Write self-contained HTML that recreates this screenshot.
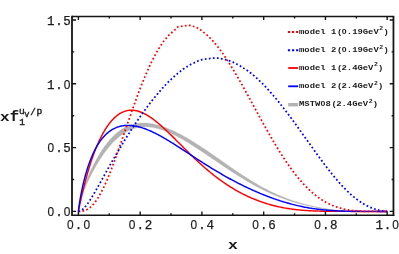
<!DOCTYPE html>
<html><head><meta charset="utf-8"><title>plot</title>
<style>
html,body{margin:0;padding:0;background:#fff;}
svg{display:block;will-change:transform;}
text{font-family:"Liberation Mono",monospace;fill:#1a1a1a;}
.tk{font-size:12.5px;letter-spacing:0.7px;}
.lg{font-size:7.4px;font-weight:bold;}
.lgs{font-size:5.4px;font-weight:bold;}
</style></head><body>
<svg width="399" height="254" viewBox="0 0 399 254">
<rect width="399" height="254" fill="#fff"/>
<g fill="none" stroke-linejoin="round">
<path d="M78.40,211.40 L78.43,210.13 L78.50,209.02 L78.59,207.95 L78.71,206.91 L78.84,205.89 L78.99,204.88 L79.16,203.89 L79.34,202.89 L79.53,201.91 L79.74,200.93 L79.96,199.94 L80.19,198.97 L80.44,197.99 L80.69,197.00 L80.96,196.02 L81.24,195.04 L81.53,194.05 L81.83,193.07 L82.13,192.08 L82.45,191.08 L82.78,190.09 L83.12,189.09 L83.47,188.08 L83.83,187.07 L84.19,186.06 L84.57,185.05 L84.95,184.03 L85.35,183.01 L85.75,181.99 L86.16,180.96 L86.57,179.93 L87.00,178.90 L87.43,177.86 L87.88,176.82 L88.33,175.78 L88.78,174.74 L89.25,173.70 L89.72,172.65 L90.20,171.61 L90.69,170.57 L91.19,169.52 L91.69,168.48 L92.20,167.43 L92.72,166.39 L93.24,165.35 L93.77,164.31 L94.31,163.28 L94.85,162.25 L95.41,161.22 L95.96,160.19 L96.53,159.17 L97.10,158.16 L97.68,157.15 L98.27,156.15 L98.86,155.15 L99.46,154.17 L100.06,153.19 L100.67,152.21 L101.29,151.25 L101.91,150.30 L102.54,149.35 L103.18,148.42 L103.82,147.50 L104.47,146.59 L105.13,145.69 L105.79,144.80 L106.45,143.93 L107.13,143.07 L107.81,142.22 L108.49,141.39 L109.18,140.57 L109.88,139.77 L110.58,138.98 L111.29,138.21 L112.00,137.46 L112.72,136.72 L113.45,136.00 L114.18,135.29 L114.92,134.61 L115.66,133.94 L116.41,133.29 L117.16,132.66 L117.92,132.05 L118.68,131.46 L119.45,130.88 L120.23,130.33 L121.01,129.79 L121.80,129.28 L122.59,128.78 L123.39,128.31 L124.19,127.85 L125.00,127.42 L125.81,127.01 L126.63,126.61 L127.45,126.24 L128.28,125.89 L129.11,125.55 L129.95,125.24 L130.80,124.95 L131.65,124.68 L132.50,124.43 L133.36,124.20 L134.22,123.99 L135.09,123.80 L135.97,123.63 L136.85,123.48 L137.73,123.35 L138.62,123.24 L139.52,123.15 L140.42,123.08 L141.32,123.03 L142.23,123.00 L143.15,122.98 L144.06,122.99 L144.99,123.01 L145.92,123.06 L146.85,123.12 L147.79,123.20 L148.73,123.30 L149.68,123.42 L150.63,123.55 L151.59,123.70 L152.55,123.87 L153.52,124.06 L154.49,124.26 L155.47,124.48 L156.45,124.71 L157.43,124.97 L158.43,125.24 L159.42,125.52 L160.42,125.82 L161.42,126.14 L162.43,126.47 L163.45,126.82 L164.46,127.18 L165.49,127.55 L166.51,127.95 L167.54,128.35 L168.58,128.77 L169.62,129.21 L170.66,129.66 L171.71,130.12 L172.77,130.59 L173.83,131.08 L174.89,131.58 L175.95,132.10 L177.03,132.63 L178.10,133.17 L179.18,133.72 L180.27,134.29 L181.35,134.87 L182.45,135.46 L183.55,136.06 L184.65,136.67 L185.75,137.30 L186.86,137.94 L187.98,138.58 L189.10,139.24 L190.22,139.91 L191.35,140.59 L192.48,141.28 L193.61,141.98 L194.75,142.69 L195.90,143.41 L197.05,144.14 L198.20,144.88 L199.36,145.63 L200.52,146.39 L201.68,147.15 L202.85,147.93 L204.03,148.71 L205.20,149.50 L206.38,150.30 L207.57,151.10 L208.76,151.91 L209.95,152.73 L211.15,153.55 L212.35,154.38 L213.56,155.22 L214.77,156.06 L215.98,156.90 L217.20,157.75 L218.42,158.61 L219.65,159.47 L220.88,160.33 L222.12,161.19 L223.35,162.06 L224.60,162.93 L225.84,163.80 L227.09,164.67 L228.35,165.55 L229.60,166.42 L230.87,167.30 L232.13,168.17 L233.40,169.04 L234.68,169.91 L235.95,170.78 L237.24,171.65 L238.52,172.52 L239.81,173.38 L241.10,174.24 L242.40,175.09 L243.70,175.94 L245.01,176.79 L246.31,177.62 L247.63,178.46 L248.94,179.29 L250.26,180.11 L251.59,180.92 L252.92,181.73 L254.25,182.53 L255.58,183.32 L256.92,184.10 L258.26,184.88 L259.61,185.64 L260.96,186.40 L262.32,187.14 L263.67,187.88 L265.04,188.60 L266.40,189.32 L267.77,190.02 L269.14,190.71 L270.52,191.39 L271.90,192.06 L273.28,192.72 L274.67,193.37 L276.06,194.00 L277.46,194.63 L278.86,195.24 L280.26,195.84 L281.66,196.42 L283.07,197.00 L284.49,197.56 L285.91,198.11 L287.33,198.65 L288.75,199.17 L290.18,199.68 L291.61,200.19 L293.04,200.67 L294.48,201.15 L295.93,201.62 L297.37,202.07 L298.82,202.51 L300.27,202.94 L301.73,203.36 L303.19,203.77 L304.66,204.16 L306.12,204.55 L307.59,204.92 L309.07,205.28 L310.55,205.64 L312.03,205.98 L313.51,206.31 L315.00,206.63 L316.49,206.94 L317.99,207.24 L319.49,207.53 L320.99,207.81 L322.50,208.08 L324.01,208.33 L325.52,208.58 L327.04,208.82 L328.56,209.05 L330.08,209.26 L331.61,209.47 L333.14,209.67 L334.67,209.85 L336.21,210.03 L337.75,210.19 L339.29,210.34 L340.84,210.48 L342.39,210.61 L343.95,210.73 L345.51,210.84 L347.07,210.93 L348.63,211.02 L350.20,211.09 L351.77,211.16 L353.35,211.21 L354.93,211.26 L356.51,211.29 L358.09,211.32 L359.68,211.35 L361.27,211.37 L362.87,211.38 L364.47,211.39 L366.07,211.39 L367.68,211.40 L369.28,211.40 L370.90,211.40 L372.51,211.40 L374.13,211.40 L375.75,211.40 L377.38,211.40 L379.01,211.40 L380.64,211.40 L382.27,211.40 L383.91,211.40 L385.55,211.40 L387.20,211.40 L387.20,212.10 L385.55,212.10 L383.91,212.10 L382.27,212.10 L380.64,212.10 L379.01,212.10 L377.38,212.10 L375.75,212.10 L374.13,212.10 L372.51,212.10 L370.90,212.10 L369.28,212.10 L367.68,212.10 L366.07,212.09 L364.47,212.09 L362.87,212.08 L361.27,212.07 L359.68,212.05 L358.09,212.02 L356.51,211.99 L354.93,211.96 L353.35,211.91 L351.77,211.86 L350.20,211.79 L348.63,211.72 L347.07,211.63 L345.51,211.54 L343.95,211.43 L342.39,211.31 L340.84,211.18 L339.29,211.04 L337.75,210.89 L336.21,210.73 L334.67,210.55 L333.14,210.37 L331.61,210.17 L330.08,209.96 L328.56,209.75 L327.04,209.52 L325.52,209.28 L324.01,209.03 L322.50,208.78 L320.99,208.51 L319.49,208.23 L317.99,207.94 L316.49,207.64 L315.00,207.33 L313.51,207.01 L312.03,206.68 L310.55,206.34 L309.07,206.00 L307.59,205.68 L306.12,205.35 L304.66,205.01 L303.19,204.66 L301.73,204.30 L300.27,203.93 L298.82,203.54 L297.37,203.15 L295.93,202.74 L294.48,202.32 L293.04,201.89 L291.61,201.44 L290.18,200.98 L288.75,200.52 L287.33,200.04 L285.91,199.54 L284.49,199.04 L283.07,198.53 L281.66,198.00 L280.26,197.46 L278.86,196.91 L277.46,196.35 L276.06,195.78 L274.67,195.19 L273.28,194.60 L271.90,193.99 L270.52,193.38 L269.14,192.75 L267.77,192.12 L266.40,191.47 L265.04,190.81 L263.67,190.15 L262.32,189.47 L260.96,188.78 L259.61,188.09 L258.26,187.39 L256.92,186.68 L255.58,185.96 L254.25,185.23 L252.92,184.49 L251.59,183.75 L250.26,183.00 L248.94,182.24 L247.63,181.48 L246.31,180.71 L245.01,179.93 L243.70,179.15 L242.40,178.36 L241.10,177.57 L239.81,176.77 L238.52,175.97 L237.24,175.16 L235.95,174.35 L234.68,173.54 L233.40,172.72 L232.13,171.90 L230.87,171.07 L229.60,170.25 L228.35,169.42 L227.09,168.59 L225.84,167.76 L224.60,166.93 L223.35,166.10 L222.12,165.27 L220.88,164.44 L219.65,163.61 L218.42,162.78 L217.20,161.95 L215.98,161.12 L214.77,160.30 L213.56,159.47 L212.35,158.65 L211.15,157.84 L209.95,157.02 L208.76,156.21 L207.57,155.40 L206.38,154.60 L205.20,153.80 L204.03,153.01 L202.85,152.22 L201.68,151.44 L200.52,150.66 L199.36,149.89 L198.20,149.13 L197.05,148.37 L195.90,147.63 L194.75,146.89 L193.61,146.15 L192.48,145.43 L191.35,144.71 L190.22,144.01 L189.10,143.31 L187.98,142.62 L186.86,141.95 L185.75,141.28 L184.65,140.63 L183.55,139.98 L182.45,139.35 L181.35,138.73 L180.27,138.12 L179.18,137.53 L178.10,136.94 L177.03,136.37 L175.95,135.82 L174.89,135.27 L173.83,134.75 L172.77,134.23 L171.71,133.73 L170.66,133.25 L169.62,132.78 L168.58,132.33 L167.54,131.89 L166.51,131.47 L165.49,131.07 L164.46,130.68 L163.45,130.31 L162.43,129.96 L161.42,129.63 L160.42,129.31 L159.42,129.01 L158.43,128.73 L157.43,128.47 L156.45,128.23 L155.47,128.01 L154.49,127.80 L153.52,127.62 L152.55,127.46 L151.59,127.31 L150.63,127.19 L149.68,127.08 L148.73,127.00 L147.79,126.94 L146.85,126.89 L145.92,126.87 L144.99,126.87 L144.06,126.89 L143.15,126.93 L142.23,126.99 L141.32,127.08 L140.42,127.18 L139.52,127.31 L138.62,127.46 L137.73,127.63 L136.85,127.82 L135.97,128.03 L135.09,128.26 L134.22,128.51 L133.36,128.79 L132.50,129.09 L131.65,129.40 L130.80,129.74 L129.95,130.10 L129.11,130.48 L128.28,130.88 L127.45,131.30 L126.63,131.74 L125.81,132.20 L125.00,132.68 L124.19,133.18 L123.39,133.69 L122.59,134.23 L121.80,134.79 L121.01,135.36 L120.23,135.95 L119.45,136.56 L118.68,137.19 L117.92,137.83 L117.16,138.49 L116.41,139.17 L115.66,139.86 L114.92,140.57 L114.18,141.30 L113.45,142.04 L112.72,142.79 L112.00,143.56 L111.29,144.34 L110.58,145.13 L109.88,145.94 L109.18,146.76 L108.49,147.59 L107.81,148.43 L107.13,149.29 L106.45,150.15 L105.79,151.03 L105.13,151.91 L104.47,152.80 L103.82,153.71 L103.18,154.62 L102.54,155.53 L101.91,156.46 L101.29,157.39 L100.67,158.33 L100.06,159.27 L99.46,160.22 L98.86,161.17 L98.27,162.13 L97.68,163.10 L97.10,164.06 L96.53,165.03 L95.96,166.00 L95.41,166.98 L94.85,167.95 L94.31,168.93 L93.77,169.91 L93.24,170.89 L92.72,171.87 L92.20,172.85 L91.69,173.83 L91.19,174.81 L90.69,175.78 L90.20,176.76 L89.72,177.73 L89.25,178.71 L88.78,179.68 L88.33,180.64 L87.88,181.61 L87.43,182.57 L87.00,183.53 L86.57,184.48 L86.16,185.43 L85.75,186.38 L85.35,187.32 L84.95,188.26 L84.57,189.19 L84.19,190.12 L83.83,191.04 L83.47,191.96 L83.12,192.87 L82.78,193.78 L82.45,194.68 L82.13,195.58 L81.83,196.47 L81.53,197.35 L81.24,198.23 L80.96,199.11 L80.69,199.97 L80.44,200.84 L80.19,201.69 L79.96,202.54 L79.74,203.39 L79.53,204.22 L79.34,205.06 L79.16,205.88 L78.99,206.70 L78.84,207.51 L78.71,208.32 L78.59,209.11 L78.50,209.90 L78.43,210.83 L78.40,211.40 Z" fill="#b3b3b3" stroke="#b3b3b3" stroke-width="0.3"/>
<path d="M78.40,211.40 L78.42,211.30 L78.46,211.11 L78.51,210.84 L78.58,210.52 L78.66,210.14 L78.74,209.71 L78.84,209.24 L78.95,208.73 L79.06,208.18 L79.18,207.59 L79.31,206.97 L79.45,206.32 L79.59,205.64 L79.74,204.93 L79.89,204.19 L80.06,203.43 L80.22,202.64 L80.40,201.83 L80.58,201.00 L80.77,200.15 L80.96,199.28 L81.16,198.39 L81.36,197.48 L81.57,196.56 L81.78,195.62 L82.00,194.67 L82.23,193.70 L82.45,192.72 L82.69,191.73 L82.93,190.72 L83.17,189.71 L83.42,188.69 L83.67,187.66 L83.93,186.61 L84.19,185.57 L84.46,184.51 L84.73,183.45 L85.01,182.38 L85.29,181.31 L85.57,180.23 L85.86,179.15 L86.16,178.07 L86.45,176.98 L86.76,175.90 L87.06,174.81 L87.37,173.71 L87.69,172.62 L88.00,171.53 L88.33,170.44 L88.65,169.35 L88.98,168.26 L89.32,167.17 L89.65,166.08 L90.00,165.00 L90.34,163.92 L90.69,162.84 L91.04,161.77 L91.40,160.70 L91.76,159.63 L92.13,158.57 L92.49,157.52 L92.86,156.47 L93.24,155.42 L93.62,154.39 L94.00,153.36 L94.39,152.33 L94.78,151.31 L95.17,150.30 L95.56,149.30 L95.96,148.31 L96.37,147.32 L96.77,146.34 L97.18,145.37 L97.60,144.41 L98.01,143.46 L98.43,142.52 L98.86,141.59 L99.28,140.67 L99.71,139.76 L100.15,138.85 L100.58,137.96 L101.02,137.08 L101.47,136.22 L101.91,135.36 L102.36,134.51 L102.82,133.68 L103.27,132.86 L103.73,132.05 L104.19,131.25 L104.66,130.46 L105.13,129.69 L105.60,128.93 L106.07,128.18 L106.55,127.45 L107.03,126.73 L107.51,126.02 L108.00,125.33 L108.49,124.65 L108.98,123.99 L109.48,123.33 L109.98,122.70 L110.48,122.07 L110.99,121.47 L111.49,120.87 L112.00,120.30 L112.52,119.73 L113.03,119.18 L113.55,118.65 L114.07,118.13 L114.60,117.63 L115.13,117.15 L115.66,116.68 L116.19,116.22 L116.73,115.78 L117.27,115.36 L117.81,114.95 L118.36,114.56 L118.90,114.19 L119.45,113.83 L120.01,113.49 L120.56,113.17 L121.12,112.86 L121.68,112.57 L122.25,112.29 L122.82,112.04 L123.39,111.80 L123.96,111.57 L124.53,111.37 L125.11,111.18 L125.69,111.00 L126.28,110.85 L126.86,110.71 L127.45,110.59 L128.04,110.48 L128.64,110.40 L129.23,110.33 L129.83,110.27 L130.43,110.24 L131.04,110.22 L131.65,110.22 L132.26,110.23 L132.87,110.27 L133.48,110.31 L134.10,110.38 L134.72,110.46 L135.34,110.56 L135.97,110.68 L136.60,110.81 L137.23,110.96 L137.86,111.13 L138.50,111.31 L139.13,111.51 L139.77,111.73 L140.42,111.96 L141.06,112.20 L141.71,112.47 L142.36,112.74 L143.01,113.04 L143.67,113.35 L144.33,113.67 L144.99,114.01 L145.65,114.36 L146.32,114.73 L146.98,115.12 L147.66,115.51 L148.33,115.92 L149.00,116.35 L149.68,116.79 L150.36,117.24 L151.04,117.71 L151.73,118.19 L152.42,118.68 L153.11,119.18 L153.80,119.70 L154.49,120.23 L155.19,120.77 L155.89,121.32 L156.59,121.89 L157.29,122.46 L158.00,123.05 L158.71,123.64 L159.42,124.25 L160.13,124.87 L160.85,125.49 L161.57,126.13 L162.29,126.78 L163.01,127.43 L163.74,128.09 L164.46,128.76 L165.19,129.44 L165.92,130.13 L166.66,130.83 L167.40,131.53 L168.13,132.24 L168.88,132.95 L169.62,133.67 L170.37,134.40 L171.11,135.13 L171.86,135.87 L172.62,136.62 L173.37,137.37 L174.13,138.12 L174.89,138.88 L175.65,139.64 L176.41,140.40 L177.18,141.17 L177.95,141.94 L178.72,142.72 L179.49,143.50 L180.27,144.28 L181.04,145.06 L181.82,145.84 L182.60,146.63 L183.39,147.41 L184.17,148.20 L184.96,148.99 L185.75,149.77 L186.55,150.56 L187.34,151.35 L188.14,152.14 L188.94,152.92 L189.74,153.71 L190.54,154.50 L191.35,155.28 L192.15,156.06 L192.96,156.84 L193.78,157.62 L194.59,158.40 L195.41,159.17 L196.23,159.94 L197.05,160.71 L197.87,161.48 L198.70,162.24 L199.52,163.00 L200.35,163.76 L201.18,164.51 L202.02,165.26 L202.85,166.00 L203.69,166.75 L204.53,167.48 L205.37,168.21 L206.22,168.94 L207.06,169.67 L207.91,170.38 L208.76,171.10 L209.61,171.81 L210.47,172.51 L211.32,173.21 L212.18,173.90 L213.04,174.59 L213.91,175.27 L214.77,175.95 L215.64,176.62 L216.51,177.28 L217.38,177.94 L218.25,178.60 L219.13,179.24 L220.00,179.88 L220.88,180.52 L221.76,181.15 L222.65,181.77 L223.53,182.39 L224.42,183.00 L225.31,183.60 L226.20,184.20 L227.09,184.79 L227.99,185.37 L228.89,185.95 L229.78,186.52 L230.69,187.09 L231.59,187.64 L232.50,188.20 L233.40,188.74 L234.31,189.28 L235.22,189.81 L236.14,190.33 L237.05,190.85 L237.97,191.36 L238.89,191.87 L239.81,192.37 L240.73,192.86 L241.66,193.34 L242.59,193.82 L243.52,194.29 L244.45,194.75 L245.38,195.21 L246.31,195.66 L247.25,196.10 L248.19,196.54 L249.13,196.97 L250.08,197.39 L251.02,197.81 L251.97,198.21 L252.92,198.62 L253.87,199.01 L254.82,199.40 L255.77,199.78 L256.73,200.16 L257.69,200.53 L258.65,200.89 L259.61,201.24 L260.58,201.59 L261.54,201.93 L262.51,202.26 L263.48,202.59 L264.45,202.91 L265.43,203.22 L266.40,203.53 L267.38,203.83 L268.36,204.12 L269.34,204.41 L270.32,204.69 L271.31,204.96 L272.29,205.23 L273.28,205.49 L274.27,205.74 L275.27,205.99 L276.26,206.23 L277.26,206.46 L278.26,206.68 L279.26,206.90 L280.26,207.12 L281.26,207.32 L282.27,207.52 L283.28,207.72 L284.29,207.91 L285.30,208.09 L286.31,208.26 L287.33,208.43 L288.34,208.59 L289.36,208.75 L290.38,208.90 L291.40,209.05 L292.43,209.19 L293.46,209.32 L294.48,209.45 L295.51,209.57 L296.54,209.69 L297.58,209.80 L298.61,209.90 L299.65,210.01 L300.69,210.10 L301.73,210.19 L302.77,210.28 L303.82,210.36 L304.86,210.44 L305.91,210.51 L306.96,210.58 L308.01,210.65 L309.07,210.71 L310.12,210.77 L311.18,210.82 L312.24,210.87 L313.30,210.92 L314.36,210.96 L315.43,211.00 L316.49,211.04 L317.56,211.07 L318.63,211.10 L319.70,211.13 L320.78,211.16 L321.85,211.19 L322.93,211.21 L324.01,211.23 L325.09,211.25 L326.17,211.26 L327.25,211.28 L328.34,211.29 L329.43,211.31 L330.52,211.32 L331.61,211.33 L332.70,211.34 L333.80,211.35 L334.89,211.35 L335.99,211.36 L337.09,211.37 L338.19,211.37 L339.29,211.37 L340.40,211.38 L341.51,211.38 L342.62,211.38 L343.73,211.39 L344.84,211.39 L345.95,211.39 L347.07,211.39 L348.19,211.39 L349.30,211.39 L350.43,211.40 L351.55,211.40 L352.67,211.40 L353.80,211.40 L354.93,211.40 L356.06,211.40 L357.19,211.40 L358.32,211.40 L359.45,211.40 L360.59,211.40 L361.73,211.40 L362.87,211.40 L364.01,211.40 L365.15,211.40 L366.30,211.40 L367.45,211.40 L368.59,211.40 L369.74,211.40 L370.90,211.40 L372.05,211.40 L373.20,211.40 L374.36,211.40 L375.52,211.40 L376.68,211.40 L377.84,211.40 L379.01,211.40 L380.17,211.40 L381.34,211.40 L382.51,211.40 L383.68,211.40 L384.85,211.40 L386.02,211.40 L387.20,211.40" stroke="#ff0000" stroke-width="1.45"/>
<path d="M78.40,211.40 L78.42,211.14 L78.46,210.71 L78.51,210.19 L78.58,209.61 L78.66,208.96 L78.74,208.27 L78.84,207.54 L78.95,206.77 L79.06,205.96 L79.18,205.13 L79.31,204.27 L79.45,203.38 L79.59,202.47 L79.74,201.55 L79.89,200.60 L80.06,199.64 L80.22,198.66 L80.40,197.67 L80.58,196.67 L80.77,195.66 L80.96,194.64 L81.16,193.61 L81.36,192.58 L81.57,191.54 L81.78,190.49 L82.00,189.44 L82.23,188.39 L82.45,187.33 L82.69,186.28 L82.93,185.22 L83.17,184.16 L83.42,183.10 L83.67,182.05 L83.93,180.99 L84.19,179.94 L84.46,178.90 L84.73,177.85 L85.01,176.81 L85.29,175.78 L85.57,174.75 L85.86,173.72 L86.16,172.71 L86.45,171.69 L86.76,170.69 L87.06,169.69 L87.37,168.70 L87.69,167.72 L88.00,166.75 L88.33,165.78 L88.65,164.83 L88.98,163.88 L89.32,162.94 L89.65,162.02 L90.00,161.10 L90.34,160.19 L90.69,159.29 L91.04,158.41 L91.40,157.53 L91.76,156.67 L92.13,155.81 L92.49,154.97 L92.86,154.14 L93.24,153.31 L93.62,152.51 L94.00,151.71 L94.39,150.92 L94.78,150.15 L95.17,149.39 L95.56,148.63 L95.96,147.90 L96.37,147.17 L96.77,146.46 L97.18,145.75 L97.60,145.06 L98.01,144.39 L98.43,143.72 L98.86,143.07 L99.28,142.43 L99.71,141.80 L100.15,141.18 L100.58,140.58 L101.02,139.98 L101.47,139.40 L101.91,138.84 L102.36,138.28 L102.82,137.74 L103.27,137.21 L103.73,136.69 L104.19,136.19 L104.66,135.69 L105.13,135.21 L105.60,134.74 L106.07,134.28 L106.55,133.84 L107.03,133.40 L107.51,132.98 L108.00,132.57 L108.49,132.18 L108.98,131.79 L109.48,131.42 L109.98,131.05 L110.48,130.70 L110.99,130.36 L111.49,130.04 L112.00,129.72 L112.52,129.42 L113.03,129.13 L113.55,128.85 L114.07,128.58 L114.60,128.32 L115.13,128.07 L115.66,127.83 L116.19,127.61 L116.73,127.40 L117.27,127.19 L117.81,127.00 L118.36,126.82 L118.90,126.65 L119.45,126.49 L120.01,126.35 L120.56,126.21 L121.12,126.08 L121.68,125.97 L122.25,125.86 L122.82,125.77 L123.39,125.68 L123.96,125.61 L124.53,125.54 L125.11,125.49 L125.69,125.45 L126.28,125.41 L126.86,125.39 L127.45,125.38 L128.04,125.37 L128.64,125.38 L129.23,125.40 L129.83,125.42 L130.43,125.46 L131.04,125.51 L131.65,125.56 L132.26,125.62 L132.87,125.70 L133.48,125.78 L134.10,125.87 L134.72,125.98 L135.34,126.09 L135.97,126.21 L136.60,126.33 L137.23,126.47 L137.86,126.62 L138.50,126.77 L139.13,126.94 L139.77,127.11 L140.42,127.29 L141.06,127.48 L141.71,127.68 L142.36,127.88 L143.01,128.10 L143.67,128.32 L144.33,128.55 L144.99,128.79 L145.65,129.03 L146.32,129.29 L146.98,129.55 L147.66,129.82 L148.33,130.10 L149.00,130.38 L149.68,130.67 L150.36,130.97 L151.04,131.27 L151.73,131.59 L152.42,131.91 L153.11,132.23 L153.80,132.56 L154.49,132.90 L155.19,133.25 L155.89,133.60 L156.59,133.96 L157.29,134.32 L158.00,134.70 L158.71,135.07 L159.42,135.45 L160.13,135.84 L160.85,136.24 L161.57,136.64 L162.29,137.04 L163.01,137.45 L163.74,137.87 L164.46,138.29 L165.19,138.71 L165.92,139.14 L166.66,139.58 L167.40,140.02 L168.13,140.46 L168.88,140.91 L169.62,141.36 L170.37,141.82 L171.11,142.28 L171.86,142.75 L172.62,143.22 L173.37,143.69 L174.13,144.17 L174.89,144.65 L175.65,145.13 L176.41,145.62 L177.18,146.10 L177.95,146.60 L178.72,147.09 L179.49,147.59 L180.27,148.09 L181.04,148.59 L181.82,149.10 L182.60,149.61 L183.39,150.12 L184.17,150.63 L184.96,151.15 L185.75,151.66 L186.55,152.18 L187.34,152.70 L188.14,153.22 L188.94,153.74 L189.74,154.27 L190.54,154.79 L191.35,155.32 L192.15,155.85 L192.96,156.38 L193.78,156.91 L194.59,157.43 L195.41,157.97 L196.23,158.50 L197.05,159.03 L197.87,159.56 L198.70,160.09 L199.52,160.62 L200.35,161.16 L201.18,161.69 L202.02,162.22 L202.85,162.75 L203.69,163.28 L204.53,163.82 L205.37,164.35 L206.22,164.88 L207.06,165.41 L207.91,165.94 L208.76,166.46 L209.61,166.99 L210.47,167.52 L211.32,168.04 L212.18,168.57 L213.04,169.09 L213.91,169.61 L214.77,170.13 L215.64,170.65 L216.51,171.17 L217.38,171.69 L218.25,172.20 L219.13,172.72 L220.00,173.23 L220.88,173.74 L221.76,174.25 L222.65,174.76 L223.53,175.26 L224.42,175.77 L225.31,176.27 L226.20,176.77 L227.09,177.27 L227.99,177.76 L228.89,178.26 L229.78,178.75 L230.69,179.24 L231.59,179.72 L232.50,180.21 L233.40,180.69 L234.31,181.17 L235.22,181.65 L236.14,182.13 L237.05,182.60 L237.97,183.07 L238.89,183.54 L239.81,184.01 L240.73,184.47 L241.66,184.93 L242.59,185.39 L243.52,185.84 L244.45,186.30 L245.38,186.75 L246.31,187.19 L247.25,187.64 L248.19,188.08 L249.13,188.52 L250.08,188.96 L251.02,189.39 L251.97,189.82 L252.92,190.25 L253.87,190.67 L254.82,191.09 L255.77,191.51 L256.73,191.92 L257.69,192.34 L258.65,192.74 L259.61,193.15 L260.58,193.55 L261.54,193.95 L262.51,194.35 L263.48,194.74 L264.45,195.13 L265.43,195.51 L266.40,195.89 L267.38,196.27 L268.36,196.64 L269.34,197.01 L270.32,197.38 L271.31,197.74 L272.29,198.10 L273.28,198.45 L274.27,198.81 L275.27,199.15 L276.26,199.49 L277.26,199.83 L278.26,200.17 L279.26,200.50 L280.26,200.82 L281.26,201.14 L282.27,201.46 L283.28,201.77 L284.29,202.08 L285.30,202.38 L286.31,202.68 L287.33,202.97 L288.34,203.26 L289.36,203.54 L290.38,203.82 L291.40,204.10 L292.43,204.36 L293.46,204.63 L294.48,204.89 L295.51,205.14 L296.54,205.39 L297.58,205.63 L298.61,205.87 L299.65,206.10 L300.69,206.32 L301.73,206.54 L302.77,206.76 L303.82,206.97 L304.86,207.17 L305.91,207.37 L306.96,207.56 L308.01,207.75 L309.07,207.93 L310.12,208.11 L311.18,208.28 L312.24,208.44 L313.30,208.60 L314.36,208.75 L315.43,208.90 L316.49,209.04 L317.56,209.18 L318.63,209.31 L319.70,209.44 L320.78,209.56 L321.85,209.68 L322.93,209.79 L324.01,209.89 L325.09,210.00 L326.17,210.09 L327.25,210.18 L328.34,210.27 L329.43,210.35 L330.52,210.43 L331.61,210.50 L332.70,210.57 L333.80,210.64 L334.89,210.70 L335.99,210.76 L337.09,210.81 L338.19,210.86 L339.29,210.91 L340.40,210.96 L341.51,211.00 L342.62,211.03 L343.73,211.07 L344.84,211.10 L345.95,211.13 L347.07,211.16 L348.19,211.18 L349.30,211.21 L350.43,211.23 L351.55,211.25 L352.67,211.27 L353.80,211.28 L354.93,211.30 L356.06,211.31 L357.19,211.32 L358.32,211.33 L359.45,211.34 L360.59,211.35 L361.73,211.35 L362.87,211.36 L364.01,211.37 L365.15,211.37 L366.30,211.38 L367.45,211.38 L368.59,211.38 L369.74,211.39 L370.90,211.39 L372.05,211.39 L373.20,211.39 L374.36,211.39 L375.52,211.39 L376.68,211.40 L377.84,211.40 L379.01,211.40 L380.17,211.40 L381.34,211.40 L382.51,211.40 L383.68,211.40 L384.85,211.40 L386.02,211.40 L387.20,211.40" stroke="#0000ff" stroke-width="1.45"/>
<path d="M78.40,211.40 L78.42,211.40 L78.46,211.40 L78.51,211.40 L78.58,211.40 L78.66,211.40 L78.74,211.40 L78.84,211.40 L78.95,211.40 L79.06,211.40 L79.18,211.40 L79.31,211.39 L79.45,211.39 L79.59,211.39 L79.74,211.38 L79.89,211.38 L80.06,211.37 L80.22,211.36 L80.40,211.35 L80.58,211.34 L80.77,211.33 L80.96,211.31 L81.16,211.30 L81.36,211.28 L81.57,211.25 L81.78,211.23 L82.00,211.20 L82.23,211.16 L82.45,211.12 L82.69,211.08 L82.93,211.03 L83.17,210.98 L83.42,210.92 L83.67,210.86 L83.93,210.79 L84.19,210.72 L84.46,210.63 L84.73,210.54 L85.01,210.45 L85.29,210.34 L85.57,210.23 L85.86,210.11 L86.16,209.98 L86.45,209.84 L86.76,209.69 L87.06,209.53 L87.37,209.35 L87.69,209.17 L88.00,208.98 L88.33,208.77 L88.65,208.55 L88.98,208.32 L89.32,208.08 L89.65,207.82 L90.00,207.54 L90.34,207.26 L90.69,206.96 L91.04,206.64 L91.40,206.30 L91.76,205.96 L92.13,205.59 L92.49,205.21 L92.86,204.81 L93.24,204.39 L93.62,203.95 L94.00,203.50 L94.39,203.02 L94.78,202.53 L95.17,202.02 L95.56,201.49 L95.96,200.94 L96.37,200.36 L96.77,199.77 L97.18,199.16 L97.60,198.52 L98.01,197.86 L98.43,197.19 L98.86,196.49 L99.28,195.76 L99.71,195.02 L100.15,194.25 L100.58,193.46 L101.02,192.65 L101.47,191.81 L101.91,190.95 L102.36,190.07 L102.82,189.17 L103.27,188.24 L103.73,187.29 L104.19,186.31 L104.66,185.32 L105.13,184.30 L105.60,183.25 L106.07,182.19 L106.55,181.10 L107.03,179.98 L107.51,178.85 L108.00,177.69 L108.49,176.51 L108.98,175.31 L109.48,174.08 L109.98,172.84 L110.48,171.57 L110.99,170.28 L111.49,168.97 L112.00,167.64 L112.52,166.29 L113.03,164.92 L113.55,163.53 L114.07,162.12 L114.60,160.69 L115.13,159.25 L115.66,157.78 L116.19,156.30 L116.73,154.80 L117.27,153.29 L117.81,151.76 L118.36,150.21 L118.90,148.65 L119.45,147.07 L120.01,145.48 L120.56,143.88 L121.12,142.26 L121.68,140.64 L122.25,139.00 L122.82,137.35 L123.39,135.69 L123.96,134.02 L124.53,132.34 L125.11,130.65 L125.69,128.95 L126.28,127.25 L126.86,125.54 L127.45,123.83 L128.04,122.11 L128.64,120.39 L129.23,118.66 L129.83,116.94 L130.43,115.20 L131.04,113.47 L131.65,111.74 L132.26,110.01 L132.87,108.28 L133.48,106.55 L134.10,104.82 L134.72,103.09 L135.34,101.37 L135.97,99.66 L136.60,97.94 L137.23,96.24 L137.86,94.54 L138.50,92.85 L139.13,91.17 L139.77,89.49 L140.42,87.83 L141.06,86.17 L141.71,84.53 L142.36,82.89 L143.01,81.27 L143.67,79.66 L144.33,78.07 L144.99,76.49 L145.65,74.92 L146.32,73.37 L146.98,71.84 L147.66,70.32 L148.33,68.82 L149.00,67.34 L149.68,65.87 L150.36,64.43 L151.04,63.00 L151.73,61.60 L152.42,60.21 L153.11,58.85 L153.80,57.51 L154.49,56.19 L155.19,54.89 L155.89,53.61 L156.59,52.36 L157.29,51.14 L158.00,49.94 L158.71,48.76 L159.42,47.61 L160.13,46.48 L160.85,45.38 L161.57,44.31 L162.29,43.26 L163.01,42.25 L163.74,41.26 L164.46,40.29 L165.19,39.36 L165.92,38.45 L166.66,37.58 L167.40,36.73 L168.13,35.95 L168.88,35.21 L169.62,34.51 L170.37,33.84 L171.11,33.19 L171.86,32.52 L172.62,31.85 L173.37,31.19 L174.13,30.53 L174.89,29.87 L175.65,29.12 L176.41,28.29 L177.18,27.47 L177.95,26.78 L178.72,26.68 L179.49,26.57 L180.27,26.47 L181.04,26.36 L181.82,26.25 L182.60,26.13 L183.39,26.00 L184.17,25.88 L184.96,25.75 L185.75,25.65 L186.55,25.57 L187.34,25.49 L188.14,25.41 L188.94,25.33 L189.74,25.44 L190.54,25.64 L191.35,25.85 L192.15,26.06 L192.96,26.27 L193.78,26.52 L194.59,26.78 L195.41,27.05 L196.23,27.31 L197.05,27.65 L197.87,28.16 L198.70,28.67 L199.52,29.18 L200.35,29.72 L201.18,30.39 L202.02,31.05 L202.85,31.72 L203.69,32.39 L204.53,33.07 L205.37,33.75 L206.22,34.43 L207.06,35.21 L207.91,36.00 L208.76,36.80 L209.61,37.59 L210.47,38.42 L211.32,39.27 L212.18,40.15 L213.04,41.12 L213.91,42.07 L214.77,43.08 L215.64,44.12 L216.51,45.18 L217.38,46.27 L218.25,47.39 L219.13,48.53 L220.00,49.70 L220.88,50.89 L221.76,52.11 L222.65,53.35 L223.53,54.61 L224.42,55.90 L225.31,57.21 L226.20,58.55 L227.09,59.91 L227.99,61.28 L228.89,62.68 L229.78,64.10 L230.69,65.54 L231.59,67.00 L232.50,68.48 L233.40,69.97 L234.31,71.49 L235.22,73.02 L236.14,74.57 L237.05,76.13 L237.97,77.71 L238.89,79.31 L239.81,80.92 L240.73,82.54 L241.66,84.18 L242.59,85.83 L243.52,87.49 L244.45,89.16 L245.38,90.84 L246.31,92.53 L247.25,94.24 L248.19,95.95 L249.13,97.67 L250.08,99.39 L251.02,101.12 L251.97,102.86 L252.92,104.60 L253.87,106.35 L254.82,108.10 L255.77,109.86 L256.73,111.62 L257.69,113.37 L258.65,115.13 L259.61,116.89 L260.58,118.65 L261.54,120.41 L262.51,122.17 L263.48,123.92 L264.45,125.67 L265.43,127.42 L266.40,129.16 L267.38,130.89 L268.36,132.62 L269.34,134.34 L270.32,136.06 L271.31,137.76 L272.29,139.46 L273.28,141.15 L274.27,142.83 L275.27,144.49 L276.26,146.15 L277.26,147.79 L278.26,149.42 L279.26,151.03 L280.26,152.64 L281.26,154.22 L282.27,155.79 L283.28,157.35 L284.29,158.89 L285.30,160.41 L286.31,161.91 L287.33,163.40 L288.34,164.87 L289.36,166.31 L290.38,167.74 L291.40,169.15 L292.43,170.54 L293.46,171.90 L294.48,173.25 L295.51,174.57 L296.54,175.87 L297.58,177.15 L298.61,178.41 L299.65,179.64 L300.69,180.85 L301.73,182.03 L302.77,183.20 L303.82,184.33 L304.86,185.44 L305.91,186.53 L306.96,187.59 L308.01,188.63 L309.07,189.64 L310.12,190.63 L311.18,191.59 L312.24,192.53 L313.30,193.44 L314.36,194.33 L315.43,195.19 L316.49,196.02 L317.56,196.83 L318.63,197.61 L319.70,198.37 L320.78,199.10 L321.85,199.81 L322.93,200.49 L324.01,201.15 L325.09,201.78 L326.17,202.39 L327.25,202.97 L328.34,203.53 L329.43,204.07 L330.52,204.58 L331.61,205.07 L332.70,205.54 L333.80,205.98 L334.89,206.40 L335.99,206.80 L337.09,207.18 L338.19,207.54 L339.29,207.88 L340.40,208.19 L341.51,208.49 L342.62,208.77 L343.73,209.03 L344.84,209.27 L345.95,209.50 L347.07,209.71 L348.19,209.90 L349.30,210.08 L350.43,210.24 L351.55,210.39 L352.67,210.52 L353.80,210.64 L354.93,210.75 L356.06,210.85 L357.19,210.93 L358.32,211.01 L359.45,211.08 L360.59,211.14 L361.73,211.19 L362.87,211.23 L364.01,211.26 L365.15,211.29 L366.30,211.32 L367.45,211.34 L368.59,211.36 L369.74,211.37 L370.90,211.38 L372.05,211.39 L373.20,211.39 L374.36,211.39 L375.52,211.40 L376.68,211.40 L377.84,211.40 L379.01,211.40 L380.17,211.40 L381.34,211.40 L382.51,211.40 L383.68,211.40 L384.85,211.40 L386.02,211.40 L387.20,211.40" stroke="#ff0000" stroke-width="1.75" stroke-dasharray="1.75 2.3"/>
<path d="M78.40,211.40 L78.42,211.40 L78.46,211.40 L78.51,211.40 L78.58,211.40 L78.66,211.39 L78.74,211.38 L78.84,211.37 L78.95,211.36 L79.06,211.34 L79.18,211.32 L79.31,211.29 L79.45,211.26 L79.59,211.22 L79.74,211.17 L79.89,211.12 L80.06,211.06 L80.22,210.99 L80.40,210.91 L80.58,210.82 L80.77,210.72 L80.96,210.62 L81.16,210.50 L81.36,210.37 L81.57,210.23 L81.78,210.08 L82.00,209.92 L82.23,209.75 L82.45,209.56 L82.69,209.37 L82.93,209.15 L83.17,208.93 L83.42,208.70 L83.67,208.45 L83.93,208.18 L84.19,207.91 L84.46,207.62 L84.73,207.32 L85.01,207.00 L85.29,206.67 L85.57,206.33 L85.86,205.98 L86.16,205.61 L86.45,205.22 L86.76,204.83 L87.06,204.42 L87.37,203.99 L87.69,203.56 L88.00,203.11 L88.33,202.65 L88.65,202.17 L88.98,201.68 L89.32,201.18 L89.65,200.67 L90.00,200.14 L90.34,199.61 L90.69,199.06 L91.04,198.50 L91.40,197.92 L91.76,197.34 L92.13,196.74 L92.49,196.14 L92.86,195.52 L93.24,194.89 L93.62,194.25 L94.00,193.60 L94.39,192.94 L94.78,192.28 L95.17,191.60 L95.56,190.91 L95.96,190.21 L96.37,189.51 L96.77,188.79 L97.18,188.07 L97.60,187.34 L98.01,186.60 L98.43,185.85 L98.86,185.10 L99.28,184.33 L99.71,183.56 L100.15,182.79 L100.58,182.00 L101.02,181.21 L101.47,180.42 L101.91,179.61 L102.36,178.80 L102.82,177.99 L103.27,177.17 L103.73,176.34 L104.19,175.51 L104.66,174.67 L105.13,173.83 L105.60,172.99 L106.07,172.13 L106.55,171.28 L107.03,170.42 L107.51,169.55 L108.00,168.69 L108.49,167.81 L108.98,166.94 L109.48,166.06 L109.98,165.18 L110.48,164.29 L110.99,163.40 L111.49,162.51 L112.00,161.61 L112.52,160.72 L113.03,159.81 L113.55,158.91 L114.07,158.01 L114.60,157.10 L115.13,156.19 L115.66,155.28 L116.19,154.36 L116.73,153.45 L117.27,152.53 L117.81,151.61 L118.36,150.69 L118.90,149.76 L119.45,148.84 L120.01,147.91 L120.56,146.99 L121.12,146.06 L121.68,145.13 L122.25,144.20 L122.82,143.27 L123.39,142.34 L123.96,141.41 L124.53,140.48 L125.11,139.54 L125.69,138.61 L126.28,137.67 L126.86,136.74 L127.45,135.81 L128.04,134.87 L128.64,133.94 L129.23,133.00 L129.83,132.07 L130.43,131.13 L131.04,130.20 L131.65,129.27 L132.26,128.33 L132.87,127.40 L133.48,126.47 L134.10,125.54 L134.72,124.61 L135.34,123.68 L135.97,122.75 L136.60,121.82 L137.23,120.89 L137.86,119.97 L138.50,119.04 L139.13,118.12 L139.77,117.20 L140.42,116.28 L141.06,115.36 L141.71,114.45 L142.36,113.53 L143.01,112.62 L143.67,111.71 L144.33,110.80 L144.99,109.90 L145.65,109.00 L146.32,108.10 L146.98,107.20 L147.66,106.31 L148.33,105.41 L149.00,104.53 L149.68,103.64 L150.36,102.76 L151.04,101.88 L151.73,101.01 L152.42,100.14 L153.11,99.27 L153.80,98.41 L154.49,97.55 L155.19,96.69 L155.89,95.84 L156.59,95.00 L157.29,94.16 L158.00,93.32 L158.71,92.49 L159.42,91.66 L160.13,90.84 L160.85,90.03 L161.57,89.22 L162.29,88.42 L163.01,87.62 L163.74,86.83 L164.46,86.05 L165.19,85.27 L165.92,84.50 L166.66,83.73 L167.40,82.98 L168.13,82.23 L168.88,81.49 L169.62,80.75 L170.37,80.03 L171.11,79.31 L171.86,78.60 L172.62,77.90 L173.37,77.20 L174.13,76.52 L174.89,75.85 L175.65,75.18 L176.41,74.52 L177.18,73.88 L177.95,73.24 L178.72,72.61 L179.49,72.00 L180.27,71.39 L181.04,70.80 L181.82,70.21 L182.60,69.64 L183.39,69.07 L184.17,68.52 L184.96,67.98 L185.75,67.46 L186.55,66.94 L187.34,66.44 L188.14,65.95 L188.94,65.47 L189.74,65.00 L190.54,64.55 L191.35,64.12 L192.15,63.73 L192.96,63.35 L193.78,62.98 L194.59,62.61 L195.41,62.24 L196.23,61.84 L197.05,61.43 L197.87,61.01 L198.70,60.67 L199.52,60.40 L200.35,60.13 L201.18,59.87 L202.02,59.60 L202.85,59.48 L203.69,59.36 L204.53,59.24 L205.37,59.12 L206.22,59.00 L207.06,58.89 L207.91,58.78 L208.76,58.66 L209.61,58.55 L210.47,58.45 L211.32,58.37 L212.18,58.29 L213.04,58.20 L213.91,58.12 L214.77,58.10 L215.64,58.10 L216.51,58.10 L217.38,58.10 L218.25,58.18 L219.13,58.33 L220.00,58.48 L220.88,58.63 L221.76,58.78 L222.65,58.97 L223.53,59.18 L224.42,59.38 L225.31,59.59 L226.20,59.82 L227.09,60.09 L227.99,60.37 L228.89,60.64 L229.78,60.95 L230.69,61.29 L231.59,61.64 L232.50,61.99 L233.40,62.35 L234.31,62.81 L235.22,63.26 L236.14,63.72 L237.05,64.19 L237.97,64.71 L238.89,65.24 L239.81,65.76 L240.73,66.32 L241.66,66.91 L242.59,67.51 L243.52,68.12 L244.45,68.71 L245.38,69.29 L246.31,69.84 L247.25,70.43 L248.19,71.07 L249.13,71.75 L250.08,72.48 L251.02,73.23 L251.97,74.00 L252.92,74.79 L253.87,75.60 L254.82,76.43 L255.77,77.27 L256.73,78.14 L257.69,79.02 L258.65,79.92 L259.61,80.83 L260.58,81.77 L261.54,82.72 L262.51,83.69 L263.48,84.68 L264.45,85.68 L265.43,86.70 L266.40,87.74 L267.38,88.79 L268.36,89.86 L269.34,90.95 L270.32,92.05 L271.31,93.17 L272.29,94.30 L273.28,95.45 L274.27,96.62 L275.27,97.79 L276.26,98.99 L277.26,100.20 L278.26,101.42 L279.26,102.66 L280.26,103.91 L281.26,105.17 L282.27,106.45 L283.28,107.74 L284.29,109.04 L285.30,110.35 L286.31,111.68 L287.33,113.02 L288.34,114.37 L289.36,115.73 L290.38,117.10 L291.40,118.48 L292.43,119.87 L293.46,121.27 L294.48,122.68 L295.51,124.09 L296.54,125.52 L297.58,126.95 L298.61,128.39 L299.65,129.84 L300.69,131.29 L301.73,132.75 L302.77,134.22 L303.82,135.69 L304.86,137.16 L305.91,138.64 L306.96,140.12 L308.01,141.60 L309.07,143.08 L310.12,144.57 L311.18,146.06 L312.24,147.54 L313.30,149.03 L314.36,150.51 L315.43,152.00 L316.49,153.48 L317.56,154.95 L318.63,156.43 L319.70,157.90 L320.78,159.36 L321.85,160.82 L322.93,162.27 L324.01,163.71 L325.09,165.15 L326.17,166.57 L327.25,167.99 L328.34,169.39 L329.43,170.78 L330.52,172.17 L331.61,173.53 L332.70,174.89 L333.80,176.23 L334.89,177.55 L335.99,178.86 L337.09,180.15 L338.19,181.42 L339.29,182.68 L340.40,183.91 L341.51,185.13 L342.62,186.32 L343.73,187.49 L344.84,188.64 L345.95,189.77 L347.07,190.87 L348.19,191.95 L349.30,193.00 L350.43,194.03 L351.55,195.03 L352.67,196.00 L353.80,196.95 L354.93,197.87 L356.06,198.76 L357.19,199.62 L358.32,200.45 L359.45,201.25 L360.59,202.03 L361.73,202.77 L362.87,203.48 L364.01,204.16 L365.15,204.81 L366.30,205.43 L367.45,206.02 L368.59,206.58 L369.74,207.10 L370.90,207.60 L372.05,208.07 L373.20,208.50 L374.36,208.91 L375.52,209.28 L376.68,209.63 L377.84,209.94 L379.01,210.23 L380.17,210.49 L381.34,210.72 L382.51,210.92 L383.68,211.09 L384.85,211.23 L386.02,211.34 L387.20,211.40" stroke="#0000ff" stroke-width="1.75" stroke-dasharray="1.75 2.3"/>
</g>
<g stroke="#151515" fill="none">
<line x1="72.0" y1="15.799999999999999" x2="72.0" y2="216.05" stroke-width="1.8"/>
<line x1="72.0" y1="215.3" x2="394.25" y2="215.3" stroke-width="1.5"/>
<line x1="72.0" y1="16.599999999999998" x2="394.25" y2="16.599999999999998" stroke-width="1.5"/>
<line x1="393.45" y1="16.4" x2="393.45" y2="216.05" stroke-width="1.8"/>
<path d="M78.40,215.3 v-3.7 M78.40,16.4 v3.7 M109.28,215.3 v-2.1 M109.28,16.4 v2.1 M140.16,215.3 v-3.7 M140.16,16.4 v3.7 M171.04,215.3 v-2.1 M171.04,16.4 v2.1 M201.92,215.3 v-3.7 M201.92,16.4 v3.7 M232.80,215.3 v-2.1 M232.80,16.4 v2.1 M263.68,215.3 v-3.7 M263.68,16.4 v3.7 M294.56,215.3 v-2.1 M294.56,16.4 v2.1 M325.44,215.3 v-3.7 M325.44,16.4 v3.7 M356.32,215.3 v-2.1 M356.32,16.4 v2.1 M387.20,215.3 v-3.7 M387.20,16.4 v3.7 M72.0,211.40 h4.1 M393.4,211.40 h-3.6999999999999997 M72.0,179.50 h2.2 M393.4,179.50 h-1.8000000000000003 M72.0,147.60 h4.1 M393.4,147.60 h-3.6999999999999997 M72.0,115.70 h2.2 M393.4,115.70 h-1.8000000000000003 M72.0,83.80 h4.1 M393.4,83.80 h-3.6999999999999997 M72.0,51.90 h2.2 M393.4,51.90 h-1.8000000000000003 M72.0,20.00 h4.1 M393.4,20.00 h-3.6999999999999997" stroke-width="1.4"/>
</g>
<text x="70.40" y="228.80" text-anchor="middle" style="font-family:'Liberation Sans',sans-serif;font-size:11.9px" stroke="#1a1a1a" stroke-width="0.15">0</text><text x="78.60" y="228.80" text-anchor="middle" style="font-size:12.5px" stroke="#1a1a1a" stroke-width="0.25">.</text><text x="86.80" y="228.80" text-anchor="middle" style="font-family:'Liberation Sans',sans-serif;font-size:11.9px" stroke="#1a1a1a" stroke-width="0.15">0</text>
<text x="132.16" y="228.80" text-anchor="middle" style="font-family:'Liberation Sans',sans-serif;font-size:11.9px" stroke="#1a1a1a" stroke-width="0.15">0</text><text x="140.36" y="228.80" text-anchor="middle" style="font-size:12.5px" stroke="#1a1a1a" stroke-width="0.25">.</text><text x="148.56" y="228.80" text-anchor="middle" style="font-size:12.5px" stroke="#1a1a1a" stroke-width="0.25">2</text>
<text x="193.92" y="228.80" text-anchor="middle" style="font-family:'Liberation Sans',sans-serif;font-size:11.9px" stroke="#1a1a1a" stroke-width="0.15">0</text><text x="202.12" y="228.80" text-anchor="middle" style="font-size:12.5px" stroke="#1a1a1a" stroke-width="0.25">.</text><text x="210.32" y="228.80" text-anchor="middle" style="font-size:12.5px" stroke="#1a1a1a" stroke-width="0.25">4</text>
<text x="255.68" y="228.80" text-anchor="middle" style="font-family:'Liberation Sans',sans-serif;font-size:11.9px" stroke="#1a1a1a" stroke-width="0.15">0</text><text x="263.88" y="228.80" text-anchor="middle" style="font-size:12.5px" stroke="#1a1a1a" stroke-width="0.25">.</text><text x="272.08" y="228.80" text-anchor="middle" style="font-size:12.5px" stroke="#1a1a1a" stroke-width="0.25">6</text>
<text x="317.44" y="228.80" text-anchor="middle" style="font-family:'Liberation Sans',sans-serif;font-size:11.9px" stroke="#1a1a1a" stroke-width="0.15">0</text><text x="325.64" y="228.80" text-anchor="middle" style="font-size:12.5px" stroke="#1a1a1a" stroke-width="0.25">.</text><text x="333.84" y="228.80" text-anchor="middle" style="font-size:12.5px" stroke="#1a1a1a" stroke-width="0.25">8</text>
<text x="379.20" y="228.80" text-anchor="middle" style="font-size:12.5px" stroke="#1a1a1a" stroke-width="0.25">1</text><text x="387.40" y="228.80" text-anchor="middle" style="font-size:12.5px" stroke="#1a1a1a" stroke-width="0.25">.</text><text x="395.60" y="228.80" text-anchor="middle" style="font-family:'Liberation Sans',sans-serif;font-size:11.9px" stroke="#1a1a1a" stroke-width="0.15">0</text>
<text x="50.70" y="216.10" text-anchor="middle" style="font-family:'Liberation Sans',sans-serif;font-size:11.9px" stroke="#1a1a1a" stroke-width="0.15">0</text><text x="58.90" y="216.10" text-anchor="middle" style="font-size:12.5px" stroke="#1a1a1a" stroke-width="0.25">.</text><text x="67.10" y="216.10" text-anchor="middle" style="font-family:'Liberation Sans',sans-serif;font-size:11.9px" stroke="#1a1a1a" stroke-width="0.15">0</text>
<text x="50.70" y="152.30" text-anchor="middle" style="font-family:'Liberation Sans',sans-serif;font-size:11.9px" stroke="#1a1a1a" stroke-width="0.15">0</text><text x="58.90" y="152.30" text-anchor="middle" style="font-size:12.5px" stroke="#1a1a1a" stroke-width="0.25">.</text><text x="67.10" y="152.30" text-anchor="middle" style="font-size:12.5px" stroke="#1a1a1a" stroke-width="0.25">5</text>
<text x="50.70" y="88.50" text-anchor="middle" style="font-size:12.5px" stroke="#1a1a1a" stroke-width="0.25">1</text><text x="58.90" y="88.50" text-anchor="middle" style="font-size:12.5px" stroke="#1a1a1a" stroke-width="0.25">.</text><text x="67.10" y="88.50" text-anchor="middle" style="font-family:'Liberation Sans',sans-serif;font-size:11.9px" stroke="#1a1a1a" stroke-width="0.15">0</text>
<text x="50.70" y="24.70" text-anchor="middle" style="font-size:12.5px" stroke="#1a1a1a" stroke-width="0.25">1</text><text x="58.90" y="24.70" text-anchor="middle" style="font-size:12.5px" stroke="#1a1a1a" stroke-width="0.25">.</text><text x="67.10" y="24.70" text-anchor="middle" style="font-size:12.5px" stroke="#1a1a1a" stroke-width="0.25">5</text>
<text transform="translate(228.0,248.6) scale(1.3,1)" x="0" y="0" style="font-size:12.6px;font-weight:bold">x</text>
<text transform="translate(0.1,121.0) scale(1.27,1)" x="0" y="0" style="font-size:12.6px;font-weight:bold">x</text>
<text transform="translate(9.7,121.0) scale(1.25,1.1)" x="0" y="0" style="font-size:12.6px;font-weight:bold">f</text>
<text x="19.2" y="124.9" style="font-size:9.5px;" stroke="#1a1a1a" stroke-width="0.4">1</text>
<text x="19.0" y="114.4" style="font-size:9.5px;" stroke="#1a1a1a" stroke-width="0.4">u</text>
<text x="24.6" y="116.6" style="font-size:7.8px;" stroke="#1a1a1a" stroke-width="0.4">V</text>
<text x="30.2" y="114.8" style="font-size:9.3px;" stroke="#1a1a1a" stroke-width="0.4">/</text>
<text x="36.4" y="114.4" style="font-size:9.5px;" stroke="#1a1a1a" stroke-width="0.4">p</text>
<line x1="287.9" y1="32.0" x2="298.4" y2="32.0" stroke="#ff0000" stroke-width="1.9" stroke-dasharray="2.2 1.9"/>
<text class="lg" transform="translate(299.0,33.7) scale(1.197,1.07)" x="0" y="0"><tspan x="0.00">m</tspan><tspan x="4.44">o</tspan><tspan x="8.88">d</tspan><tspan x="13.32">e</tspan><tspan x="17.76">l</tspan><tspan x="26.64">1</tspan><tspan x="31.68">(</tspan><tspan x="35.67" style="font-family:'Liberation Sans',sans-serif;font-size:7.3px">0</tspan><tspan x="39.96">.</tspan><tspan x="44.40">1</tspan><tspan x="48.84">9</tspan><tspan x="53.28">G</tspan><tspan x="57.72">e</tspan><tspan x="62.16">V</tspan><tspan class="lgs" x="67.10" dy="-3.1">2</tspan><tspan x="70.50" dy="3.1">)</tspan></text>
<line x1="287.9" y1="50.2" x2="298.4" y2="50.2" stroke="#0000ff" stroke-width="1.9" stroke-dasharray="2.2 1.9"/>
<text class="lg" transform="translate(299.0,51.9) scale(1.197,1.07)" x="0" y="0"><tspan x="0.00">m</tspan><tspan x="4.44">o</tspan><tspan x="8.88">d</tspan><tspan x="13.32">e</tspan><tspan x="17.76">l</tspan><tspan x="26.64">2</tspan><tspan x="31.68">(</tspan><tspan x="35.67" style="font-family:'Liberation Sans',sans-serif;font-size:7.3px">0</tspan><tspan x="39.96">.</tspan><tspan x="44.40">1</tspan><tspan x="48.84">9</tspan><tspan x="53.28">G</tspan><tspan x="57.72">e</tspan><tspan x="62.16">V</tspan><tspan class="lgs" x="67.10" dy="-3.1">2</tspan><tspan x="70.50" dy="3.1">)</tspan></text>
<line x1="288.2" y1="68.0" x2="298.2" y2="68.0" stroke="#ff0000" stroke-width="1.8"/>
<text class="lg" transform="translate(299.0,69.7) scale(1.197,1.07)" x="0" y="0"><tspan x="0.00">m</tspan><tspan x="4.44">o</tspan><tspan x="8.88">d</tspan><tspan x="13.32">e</tspan><tspan x="17.76">l</tspan><tspan x="26.64">1</tspan><tspan x="31.68">(</tspan><tspan x="35.52">2</tspan><tspan x="39.96">.</tspan><tspan x="44.40">4</tspan><tspan x="48.84">G</tspan><tspan x="53.28">e</tspan><tspan x="57.72">V</tspan><tspan class="lgs" x="62.66" dy="-3.1">2</tspan><tspan x="66.06" dy="3.1">)</tspan></text>
<line x1="288.2" y1="86.3" x2="298.2" y2="86.3" stroke="#0000ff" stroke-width="1.8"/>
<text class="lg" transform="translate(299.0,88.0) scale(1.197,1.07)" x="0" y="0"><tspan x="0.00">m</tspan><tspan x="4.44">o</tspan><tspan x="8.88">d</tspan><tspan x="13.32">e</tspan><tspan x="17.76">l</tspan><tspan x="26.64">2</tspan><tspan x="31.68">(</tspan><tspan x="35.52">2</tspan><tspan x="39.96">.</tspan><tspan x="44.40">4</tspan><tspan x="48.84">G</tspan><tspan x="53.28">e</tspan><tspan x="57.72">V</tspan><tspan class="lgs" x="62.66" dy="-3.1">2</tspan><tspan x="66.06" dy="3.1">)</tspan></text>
<line x1="288.2" y1="104.7" x2="298.2" y2="104.7" stroke="#b3b3b3" stroke-width="3.4"/>
<text class="lg" transform="translate(299.0,106.4) scale(1.197,1.07)" x="0" y="0"><tspan x="0.00">M</tspan><tspan x="4.44">S</tspan><tspan x="8.88">T</tspan><tspan x="13.32">W</tspan><tspan x="17.91" style="font-family:'Liberation Sans',sans-serif;font-size:7.3px">0</tspan><tspan x="22.20">8</tspan><tspan x="27.24">(</tspan><tspan x="31.08">2</tspan><tspan x="35.52">.</tspan><tspan x="39.96">4</tspan><tspan x="44.40">G</tspan><tspan x="48.84">e</tspan><tspan x="53.28">V</tspan><tspan class="lgs" x="58.22" dy="-3.1">2</tspan><tspan x="61.62" dy="3.1">)</tspan></text>
</svg></body></html>
